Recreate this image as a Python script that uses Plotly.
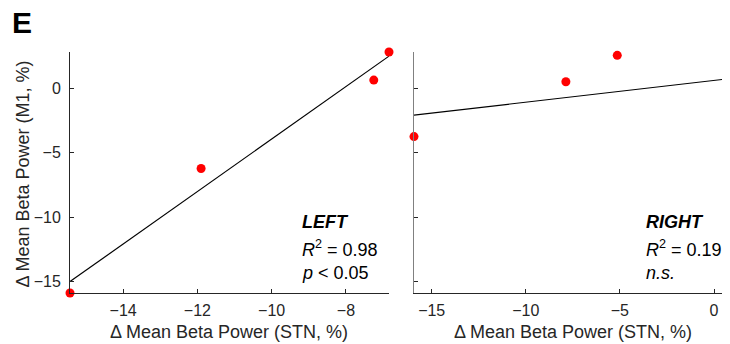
import numpy as np
import plotly.graph_objects as go

# Data
left_stn = [-15.43, -11.9, -7.25, -6.84]
left_m1 = [-15.9, -6.23, 0.64, 2.82]
right_stn = [-15.94, -7.87, -5.14, 1.0]
right_m1 = [-3.75, 0.51, 2.56, -1.6]

left_xticks = [-14, -12, -10, -8]
right_xticks = [-15, -10, -5, 0]
yticks = [0, -5, -10, -15]

left_xrange = [-15.43, -6.84]
right_xrange = [-15.94, 0.85]
yrange = [-15.9, 2.82]

FONT = "Liberation Sans, Arial, sans-serif"
RED = "#ff0000"
AX = "#262626"
OFF = 8  # page body margin
W, H = 730 - OFF, 344 - OFF


def px_x(p):
    return (p - OFF) / W


def px_y(p):
    return 1 - (p - OFF) / H


fig = go.Figure()


def add_panel(xs, ys, xa, ya):
    xs = np.array(xs)
    ys = np.array(ys)
    slope, icpt = np.polyfit(xs, ys, 1)
    lx = np.array([xs.min(), xs.max()])
    fig.add_trace(go.Scatter(x=lx, y=slope * lx + icpt, mode="lines",
                             line=dict(color="black", width=1.2),
                             xaxis=xa, yaxis=ya, showlegend=False,
                             hoverinfo="skip"))
    fig.add_trace(go.Scatter(x=xs, y=ys, mode="markers",
                             marker=dict(color=RED, size=9),
                             xaxis=xa, yaxis=ya, showlegend=False,
                             cliponaxis=False))


add_panel(left_stn, left_m1, "x", "y")
add_panel(right_stn, right_m1, "x2", "y2")

axis_common = dict(showgrid=False, zeroline=False, ticks="inside", ticklen=4,
                   tickcolor=AX, tickwidth=1, automargin=False,
                   tickfont=dict(family=FONT, size=16, color=AX),
                   showline=True, linewidth=1)

ydom = [px_y(293), px_y(52)]
fig.update_layout(
    width=W, height=H,
    margin=dict(l=0, r=0, t=0, b=0),
    plot_bgcolor="white", paper_bgcolor="white",
    xaxis=dict(domain=[px_x(70), px_x(389)], range=left_xrange,
               tickvals=left_xticks, linecolor=AX, anchor="y",
               ticklabelstandoff=3, **axis_common),
    yaxis=dict(domain=ydom, range=yrange, tickvals=yticks,
               linecolor=AX, anchor="x", ticklabelstandoff=5,
               **axis_common),
    xaxis2=dict(domain=[px_x(414), 1.0], range=right_xrange,
                tickvals=right_xticks, linecolor=AX, anchor="y2",
                ticklabelstandoff=3, **axis_common),
    yaxis2=dict(domain=ydom, range=yrange, tickvals=yticks,
                linecolor="#808080", anchor="x2", showticklabels=False,
                **axis_common),
)

title_font = dict(family=FONT, size=18, color=AX)
fig.add_annotation(x=px_x(228.5), y=px_y(332), xref="paper", yref="paper",
                   text="Δ Mean Beta Power (STN, %)", showarrow=False,
                   xanchor="center", yanchor="middle", font=title_font)
fig.add_annotation(x=px_x(573), y=px_y(332), xref="paper", yref="paper",
                   text="Δ Mean Beta Power (STN, %)", showarrow=False,
                   xanchor="center", yanchor="middle", font=title_font)
fig.add_annotation(x=px_x(22.5), y=px_y(174), xref="paper", yref="paper",
                   text="Δ Mean Beta Power (M1, %)", showarrow=False,
                   textangle=-90, xanchor="center", yanchor="middle",
                   font=title_font)

ann_font = dict(family=FONT, size=18, color="black")
notes = [
    (300, "<b><i>LEFT</i></b>", 222),
    (300, "<i>R</i><sup>2</sup> = 0.98", 248),
    (300, "<i>p</i> < 0.05", 273),
    (644, "<b><i>RIGHT</i></b>", 222),
    (644, "<i>R</i><sup>2</sup> = 0.19", 248),
    (644, "<i>n.s.</i>", 273),
]
for px, txt, py in notes:
    fig.add_annotation(x=px_x(px), y=px_y(py), xref="paper", yref="paper",
                       yanchor="middle", xanchor="left", text=txt,
                       showarrow=False, font=ann_font)

fig.add_annotation(x=px_x(10), y=px_y(23), xref="paper", yref="paper",
                   xanchor="left", yanchor="middle", text="<b>E</b>",
                   showarrow=False,
                   font=dict(family=FONT, size=30, color="black"))

fig.write_html("out.html")
